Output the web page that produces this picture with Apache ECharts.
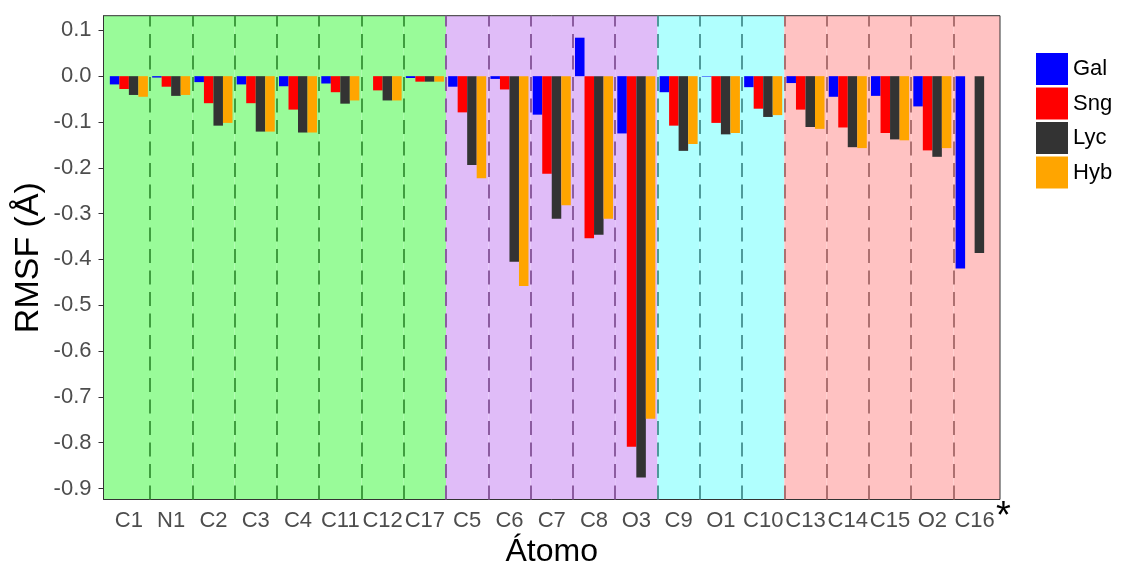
<!DOCTYPE html>
<html><head><meta charset="utf-8">
<script src="https://cdn.jsdelivr.net/npm/echarts@6/dist/echarts.min.js"></script>
<style>html,body{margin:0;padding:0;background:#fff}#c{width:1121px;height:563px}</style>
</head><body><div id="c"></div>
<script>
const categories = ['C1','N1','C2','C3','C4','C11','C12','C17','C5','C6','C7','C8','O3','C9','O1','C10','C13','C14','C15','O2','C16'];
const gal = [-0.018,-0.003,-0.013,-0.018,-0.022,-0.016,0,-0.004,-0.023,-0.006,-0.084,0.084,-0.125,-0.035,-0.001,-0.024,-0.015,-0.045,-0.043,-0.066,-0.420];
const sng = [-0.028,-0.023,-0.059,-0.059,-0.073,-0.035,-0.031,-0.012,-0.079,-0.029,-0.213,-0.354,-0.809,-0.108,-0.102,-0.071,-0.073,-0.112,-0.124,-0.162,null];
const lyc = [-0.041,-0.043,-0.108,-0.121,-0.123,-0.060,-0.053,-0.012,-0.194,-0.405,-0.311,-0.346,-0.876,-0.163,-0.127,-0.089,-0.111,-0.155,-0.138,-0.176,-0.386];
const hyb = [-0.045,-0.041,-0.102,-0.121,-0.123,-0.053,-0.053,-0.012,-0.223,-0.458,-0.282,-0.311,-0.748,-0.148,-0.124,-0.085,-0.115,-0.157,-0.140,-0.157,null];
const groupOf = [0,0,0,0,0,0,0,0,1,1,1,1,1,2,2,2,3,3,3,3,3];
const yTicks = [0.1,0.0,-0.1,-0.2,-0.3,-0.4,-0.5,-0.6,-0.7,-0.8,-0.9];
const seriesNames = ['Gal','Sng','Lyc','Hyb'];

const groupFill = ['#99FB99','#E0BCF8','#B0FFFE','#FFC2C2'];
const groupDash = ['#3f9d3f','#8c5ca0','#4f9a9a','#ad7070'];
const barColors = ['#0000FF','#FF0000','#333333','#FFA500'];
const yMin = -0.924, yMax = 0.132;
const xLo = 0.4, xHi = categories.length + 0.6;

const areas = categories.map((c, i) => {
  const g = groupOf[i];
  const a = i === 0 ? xLo : i + 0.5;
  const b = i === categories.length - 1 ? xHi : i + 1.5;
  return [{xAxis: a, itemStyle: {color: groupFill[g]}}, {xAxis: b}];
});
const dashLines = categories.slice(1).map((c, i) => ({
  xAxis: i + 1.5,
  lineStyle: {color: groupDash[groupOf[i + 1]], width: 2, type: [14, 7.5]}
}));

const G = {left: 103.5, right: 121, top: 15.7, bottom: 63.5};
const unit = (1121 - G.left - G.right) / (xHi - xLo);
const FONT = 'Liberation Sans, Arial, sans-serif';

const chart = echarts.init(document.getElementById('c'), null, {renderer: 'canvas'});
chart.setOption({
  animation: false,
  textStyle: {fontFamily: FONT},
  grid: [
    {left: G.left, right: G.right, top: G.top, bottom: G.bottom, show: true, z: 5, outerBoundsMode: 'none',
     backgroundColor: 'transparent', borderColor: '#333', borderWidth: 1},
    {left: G.left + 0.1 * unit, right: G.right + 0.1 * unit, top: G.top, bottom: G.bottom, outerBoundsMode: 'none'}
  ],
  xAxis: [
    {type: 'value', gridIndex: 0, min: xLo, max: xHi, show: false},
    {type: 'category', gridIndex: 1, data: categories,
     axisLine: {show: false},
     axisTick: {show: true, alignWithLabel: true, length: 4, lineStyle: {color: '#333'}},
     axisLabel: {interval: 0, fontSize: 22, color: '#4d4d4d', margin: 10},
     name: 'Átomo', nameLocation: 'middle', nameGap: 37, nameMoveOverlap: false,
     nameTextStyle: {fontSize: 32, color: '#000'}}
  ],
  yAxis: [
    {type: 'value', gridIndex: 0, min: yMin, max: yMax,
     axisLine: {show: true, lineStyle: {color: '#333'}},
     axisTick: {show: true, length: 5, customValues: yTicks, lineStyle: {color: '#333'}},
     axisLabel: {customValues: yTicks, fontSize: 22, color: '#4d4d4d', margin: 12,
       formatter: v => (Math.abs(v) < 1e-9 ? 0 : v).toFixed(1)},
     splitLine: {show: false},
     name: 'RMSF (Å)', nameLocation: 'middle', nameGap: 58, nameMoveOverlap: false,
     nameTextStyle: {fontSize: 34, color: '#000'}},
    {type: 'value', gridIndex: 1, min: yMin, max: yMax, show: false, splitLine: {show: false}}
  ],
  legend: {data: seriesNames, orient: 'vertical', left: 1031, top: 48, itemWidth: 32, itemHeight: 32,
    itemGap: 2.5, icon: 'rect', textStyle: {fontSize: 22, color: '#000'}},
  graphic: [{type: 'text', left: 996, top: 499, style: {text: '*', fontSize: 38, fill: '#000', fontFamily: FONT}}],
  series: [
    {type: 'line', xAxisIndex: 0, yAxisIndex: 0, data: [], silent: true, z: 1,
     markArea: {silent: true, data: areas, label: {show: false}},
     markLine: {silent: true, symbol: 'none', data: dashLines, label: {show: false}}},
    ...[gal, sng, lyc, hyb].map((d, k) => ({
      name: seriesNames[k], type: 'bar', xAxisIndex: 1, yAxisIndex: 1, data: d, z: 3,
      barGap: '0%', barCategoryGap: '10%', itemStyle: {color: barColors[k]}
    }))
  ]
});
</script></body></html>
